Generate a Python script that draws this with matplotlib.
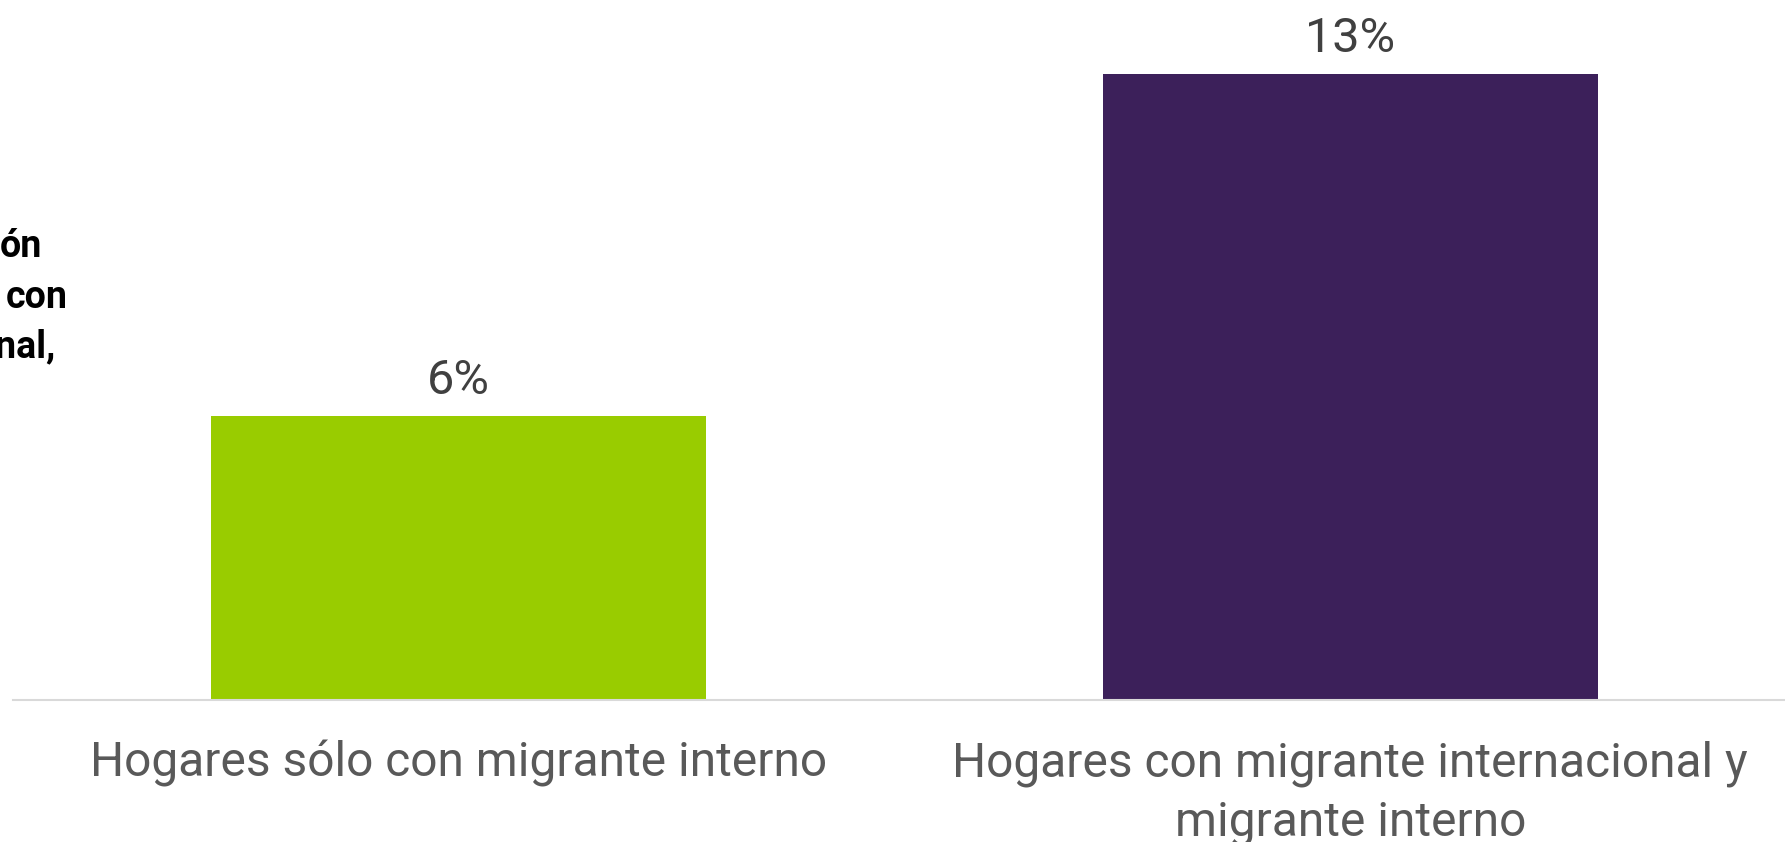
import matplotlib
matplotlib.use("Agg")
import matplotlib.pyplot as plt

categories = ["Hogares sólo con migrante interno",
              "Hogares con migrante internacional y\nmigrante interno"]
values = [5.8, 12.8]
colors = ["#99CC00", "#3C205A"]
# Only the ends of the side title are visible in the reference
title_fragments = ["ón", "con", "nal,"]

plt.rcParams['font.family'] = ['Roboto', 'DejaVu Sans']

W, H = 1785, 842
fig = plt.figure(figsize=(W/100, H/100), dpi=100)
ax_left = 13 / W
ax_bottom = (H - 700) / H
ax_w = 1783 / W
ymax = 14.0
px_per_unit = 626 / values[1]
ax_h = ymax * px_per_unit / H
ax = fig.add_axes([ax_left, ax_bottom, ax_w, ax_h])

x = list(range(len(categories)))
bars = ax.bar(x, values, width=0.555, color=colors)
ax.set_xlim(-0.5, 1.5)
ax.set_ylim(0, ymax)
for b, v in zip(bars, values):
    ax.annotate(f"{v:.0f}%", (b.get_x() + b.get_width()/2, v), xytext=(0, 16),
                textcoords="offset points", ha="center", va="baseline",
                fontsize=35, color="#404040")

ax.set_xticks(x)
ax.set_xticklabels(categories, fontsize=34.5, color="#595959", linespacing=1.36)
ax.tick_params(axis="x", length=0, pad=29)
ax.set_yticks([])
for s in ["top", "right", "left"]:
    ax.spines[s].set_visible(False)
ax.spines["bottom"].set_color("#D9D9D9")
ax.spines["bottom"].set_linewidth(1.5)

right_ends = [42, 68, 55]
baselines = [257, 308, 357]
for frag, xr, yb in zip(title_fragments, right_ends, baselines):
    fig.text(xr / W, 1 - yb / H, frag, ha="right", va="baseline",
             fontsize=27, fontweight="bold", color="#000000")

fig.savefig("out.png", dpi=100)
